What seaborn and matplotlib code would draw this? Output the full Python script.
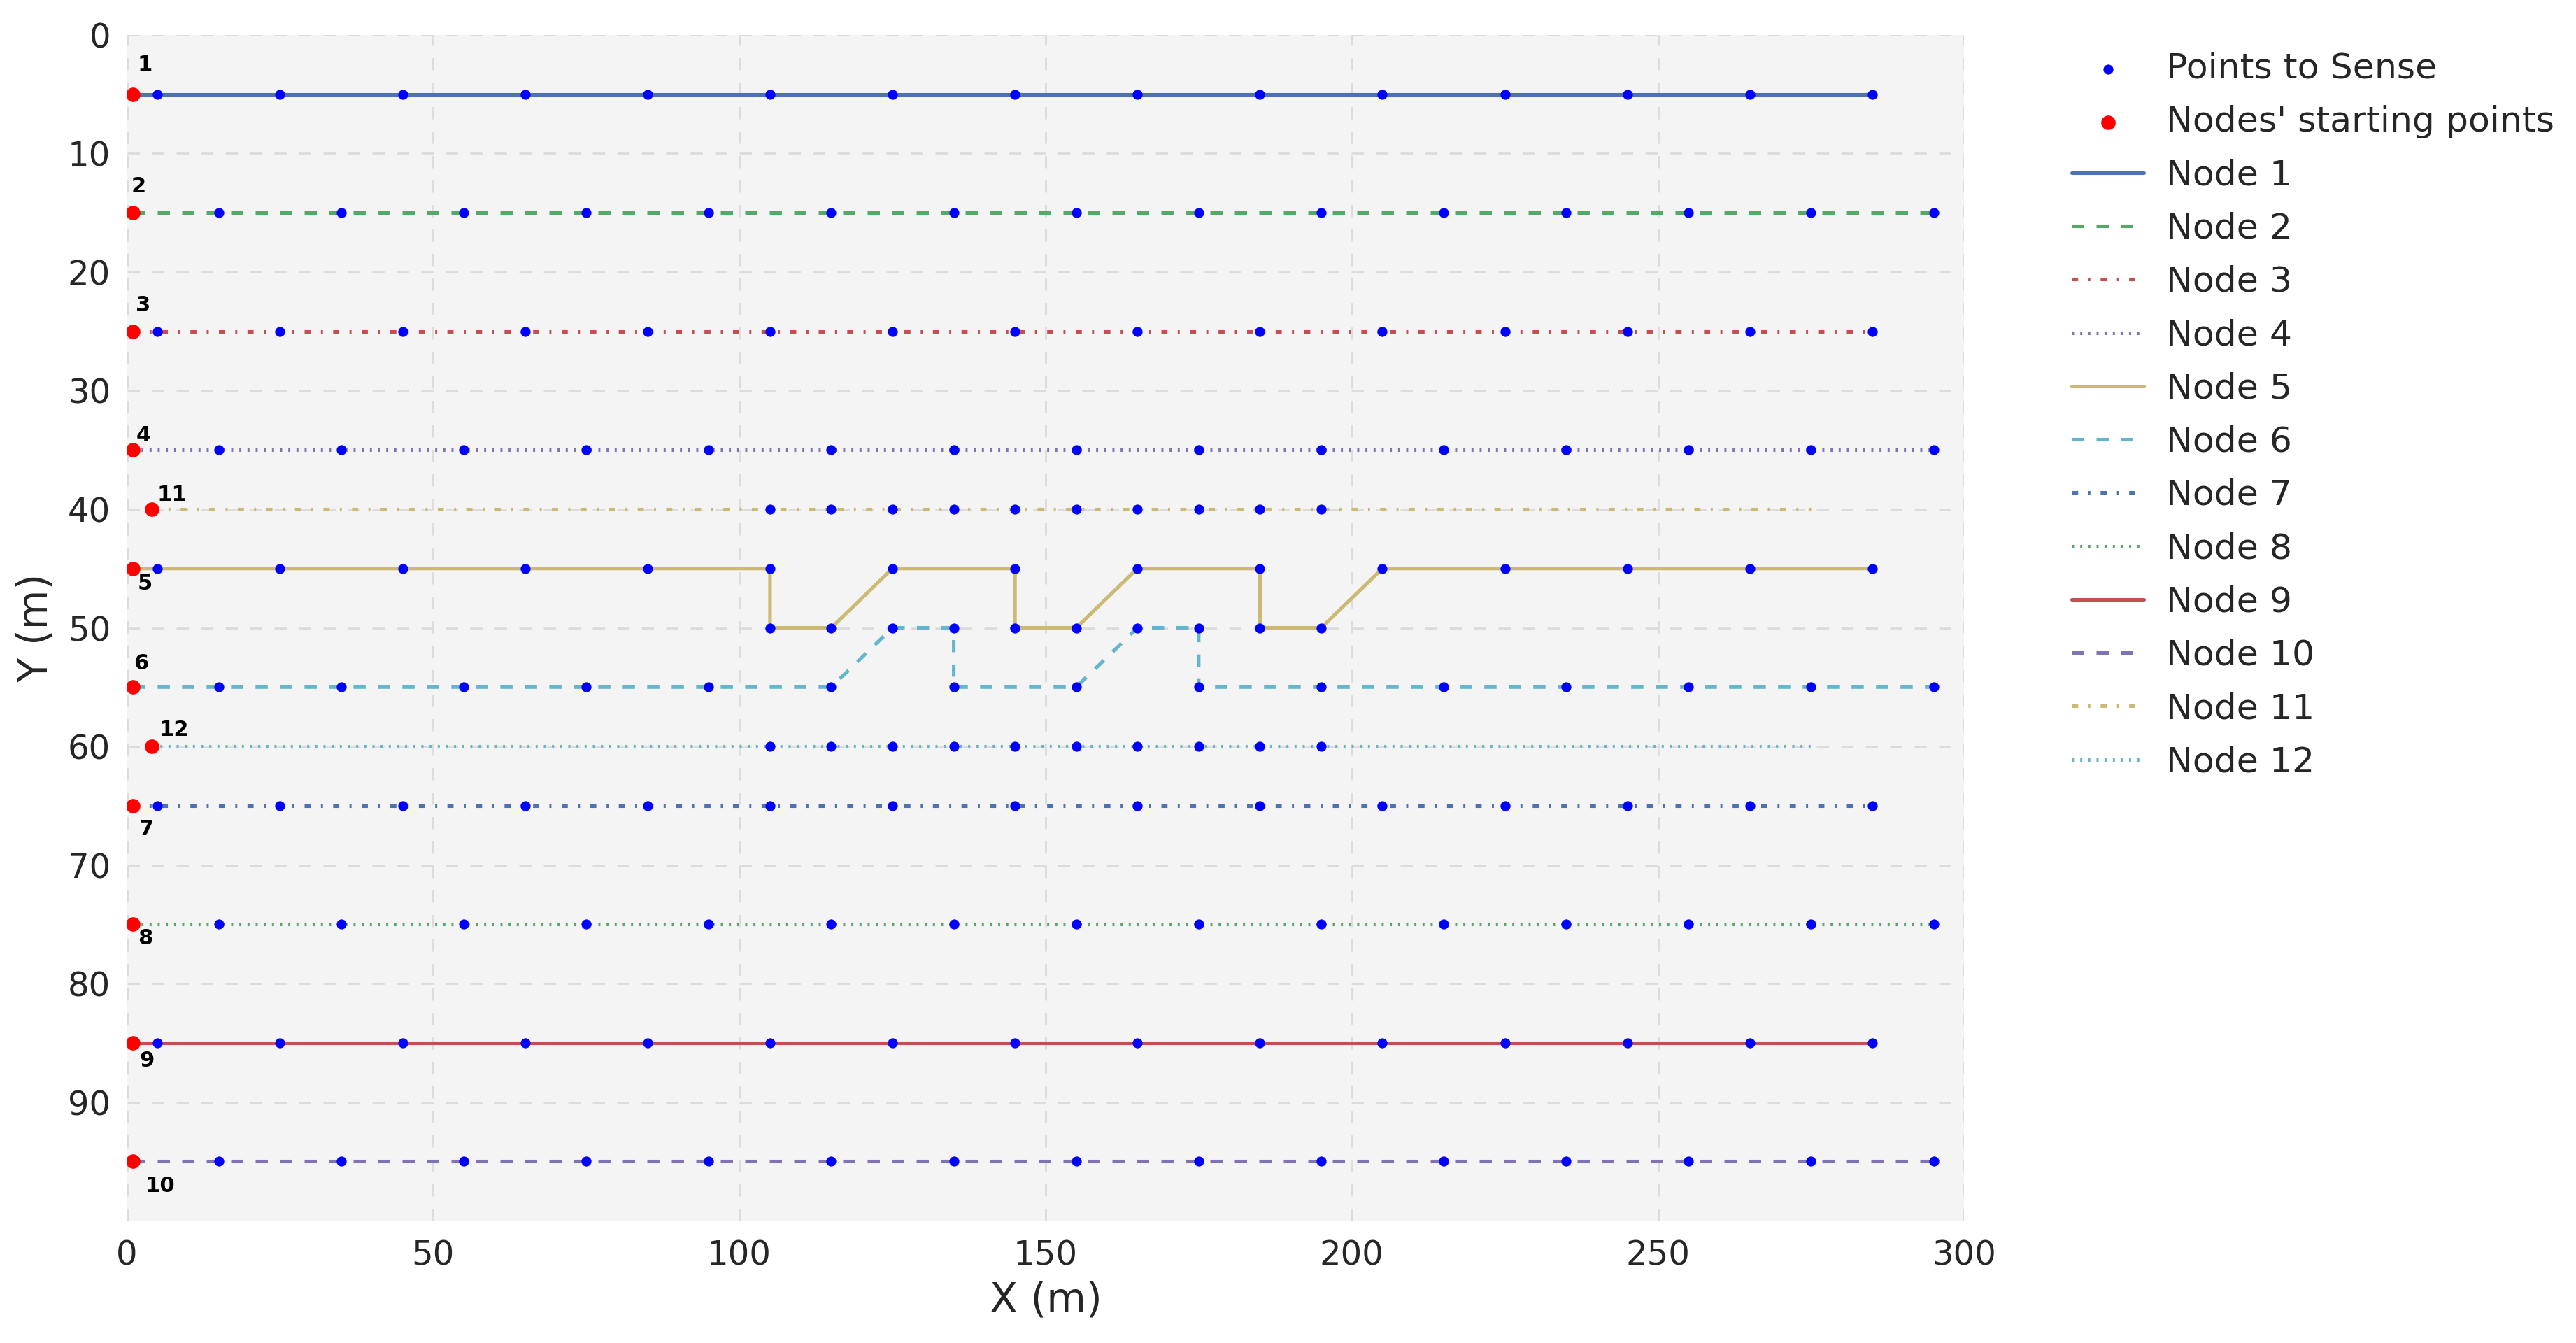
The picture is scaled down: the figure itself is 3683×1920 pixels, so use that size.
import matplotlib
matplotlib.use("Agg")
import matplotlib.pyplot as plt
import pandas as pd
import seaborn as sns

# ---------------- data ----------------
# Points to sense: columns (x, m) and the rows (y, m) that use them
cols_a = [5, 25, 45, 65, 85, 105, 125, 145, 165, 185, 205, 225, 245, 265, 285]
cols_b = [15, 35, 55, 75, 95, 115, 135, 155, 175, 195, 215, 235, 255, 275, 295]
cols_mid = [105, 115, 125, 135, 145, 155, 165, 175, 185, 195]
rows_a = [5, 25, 45, 65, 85]
rows_b = [15, 35, 55, 75, 95]
rows_mid = [40, 50, 60]

# Nodes
node_ids = [1, 2, 3, 4, 5, 6, 7, 8, 9, 10, 11, 12]
start_x = [1, 1, 1, 1, 1, 1, 1, 1, 1, 1, 4, 4]
start_y = [5, 15, 25, 35, 45, 55, 65, 75, 85, 95, 40, 60]

path_x = {
    1: [1, 285],
    2: [1, 295],
    3: [1, 285],
    4: [1, 295],
    5: [1, 105, 105, 115, 125, 145, 145, 155, 165, 185, 185, 195, 205, 285],
    6: [1, 115, 125, 135, 135, 155, 165, 175, 175, 295],
    7: [1, 285],
    8: [1, 295],
    9: [1, 285],
    10: [1, 295],
    11: [4, 275],
    12: [4, 275],
}
path_y = {
    1: [5, 5],
    2: [15, 15],
    3: [25, 25],
    4: [35, 35],
    5: [45, 45, 50, 50, 45, 45, 50, 50, 45, 45, 50, 50, 45, 45],
    6: [55, 55, 50, 50, 55, 55, 50, 50, 55, 55],
    7: [65, 65],
    8: [75, 75],
    9: [85, 85],
    10: [95, 95],
    11: [40, 40],
    12: [60, 60],
}

x_ticks = [0, 50, 100, 150, 200, 250, 300]
y_ticks = [0, 10, 20, 30, 40, 50, 60, 70, 80, 90]

# ---------------- style ----------------
palette = ['#4C72B0', '#55A868', '#C44E52', '#8172B2', '#CCB974', '#64B5CD']
styles = ['-', '--', '-.', ':']
# label placement (text centre: absolute x, offset in y from the start row)
label_pos = {
    1: (2.95, -2.5), 2: (1.95, -2.2), 3: (2.6, -2.2), 4: (2.7, -1.2),
    5: (2.95, 1.3), 6: (2.3, -2.0), 7: (3.2, 2.0), 8: (3.0, 1.2),
    9: (3.3, 1.5), 10: (5.35, 2.1), 11: (7.3, -1.2), 12: (7.65, -1.4),
}

sns.set_theme(style="whitegrid", rc={
    "axes.facecolor": "#F4F4F4",
    "axes.edgecolor": "#F4F4F4",
    "grid.color": "#DCDCDC",
    "grid.linestyle": "--",
    "grid.linewidth": 1.0,
    "lines.scale_dashes": False,
    "lines.dashed_pattern": [6, 6],
    "lines.dashdot_pattern": [3, 5, 1, 5],
    "lines.dotted_pattern": [1, 3],
    "xtick.color": "#262626",
    "ytick.color": "#262626",
    "axes.labelcolor": "#262626",
})
plt.rcParams["font.family"] = ["DejaVu Sans"]

DPI = 210
fig = plt.figure(figsize=(3683 / DPI, 1920 / DPI), dpi=DPI)
ax = fig.add_axes([0.0493, 0.0911, 0.7625 - 0.0493, 0.974 - 0.0911])

# points to sense
pts = ([(x, y) for y in rows_a for x in cols_a]
       + [(x, y) for y in rows_b for x in cols_b]
       + [(x, y) for y in rows_mid for x in cols_mid])
pts_df = pd.DataFrame(pts, columns=["x", "y"])
sns.scatterplot(data=pts_df, x="x", y="y", color="blue", s=24, linewidth=0,
                zorder=3, label="Points to Sense", ax=ax, legend=False)

start_df = pd.DataFrame({"x": start_x, "y": start_y})
sns.scatterplot(data=start_df, x="x", y="y", color="red", s=50, linewidth=0,
                zorder=4, label="Nodes' starting points", ax=ax, legend=False)

for i, n in enumerate(node_ids):
    df = pd.DataFrame({"x": path_x[n], "y": path_y[n]})
    sns.lineplot(data=df, x="x", y="y", sort=False, estimator=None,
                 color=palette[i % 6], linestyle=styles[i % 4], linewidth=1.75,
                 label=f"Node {n}", ax=ax, zorder=2, legend=False)

for i, n in enumerate(node_ids):
    lx, dy = label_pos[n]
    ax.text(lx, start_y[i] + dy, str(n), ha="center", va="center",
            fontsize=10.5, fontweight="bold", color="black", zorder=5)

ax.set_xlim(0, 300)
ax.set_ylim(100, 0)
ax.set_xticks(x_ticks)
ax.set_yticks(y_ticks)
ax.tick_params(axis="both", length=0, labelsize=16.5)
ax.tick_params(axis="x", pad=9)
ax.tick_params(axis="y", pad=8)
ax.set_xlabel("X (m)", fontsize=20, labelpad=4)
ax.set_ylabel("Y (m)", fontsize=20, labelpad=6)
for s in ax.spines.values():
    s.set_visible(False)
ax.grid(True)

handles, labels = ax.get_legend_handles_labels()
order = ["Points to Sense", "Nodes' starting points"] + [f"Node {n}" for n in node_ids]
hmap = dict(zip(labels, handles))
fig.legend([hmap[l] for l in order], order, loc="upper left",
           bbox_to_anchor=(0.8042, 0.9615), frameon=False, fontsize=17.3,
           borderpad=0, borderaxespad=0, labelspacing=0.56,
           handlelength=2.05, handletextpad=0.62, scatterpoints=1)

fig.savefig("out.png", dpi=DPI)
